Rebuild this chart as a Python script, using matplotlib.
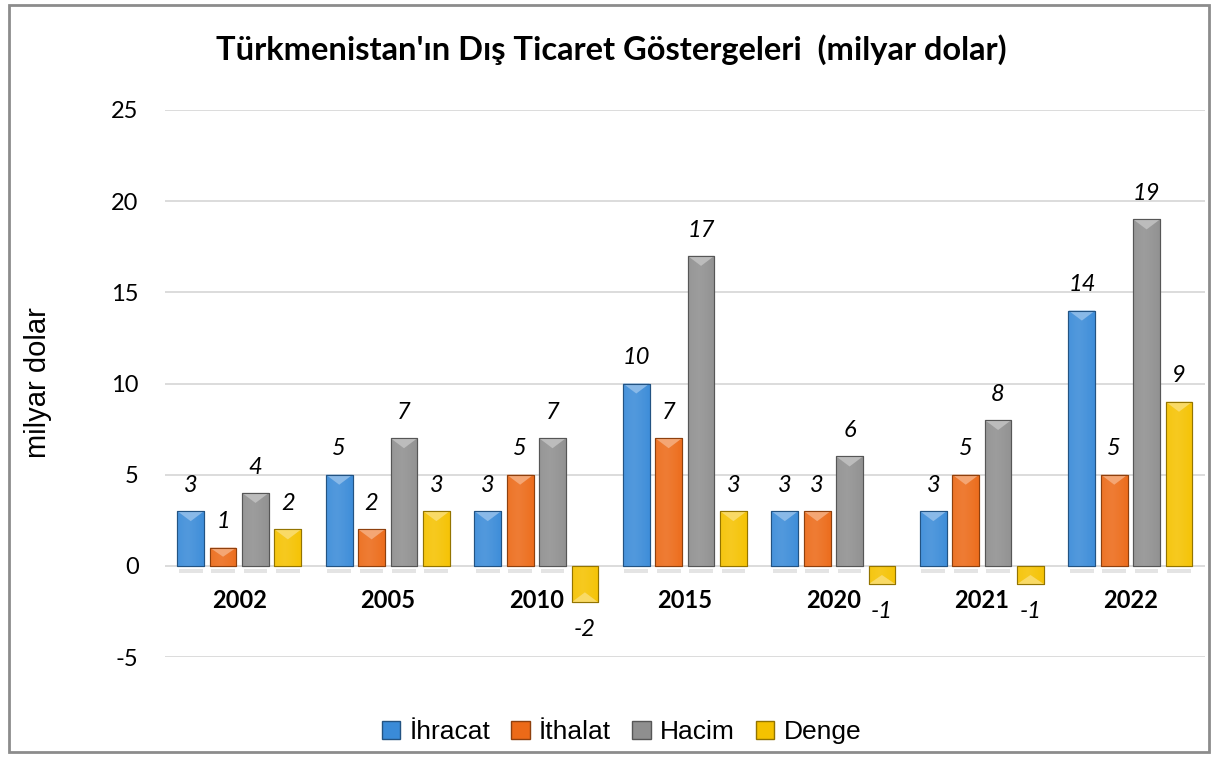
import numpy as np
import matplotlib.pyplot as plt
from matplotlib.patches import Rectangle, Polygon
from matplotlib.colors import to_rgb

# Türkmenistan dış ticaret göstergeleri (milyar dolar)
years = ['2002', '2005', '2010', '2015', '2020', '2021', '2022']
ihracat = [3, 5, 3, 10, 3, 3, 14]
ithalat = [1, 2, 5, 7, 3, 5, 5]
hacim = [4, 7, 7, 17, 6, 8, 19]
denge = [2, 3, -2, 3, -1, -1, 9]

series = [('İhracat', ihracat, '#3a8bd8'),
          ('İthalat', ithalat, '#ec6a18'),
          ('Hacim', hacim, '#8f8f8f'),
          ('Denge', denge, '#f5c200')]

plt.rcParams['font.family'] = ['Lato', 'DejaVu Sans']
plt.rcParams['axes.unicode_minus'] = False

fig = plt.figure(figsize=(12.16, 7.58), dpi=100)
ax = fig.add_axes([0.1357, 0.1332, 0.855, 0.7217])

x = np.arange(len(years))
width = 0.18
step = 0.218


def shade(c, f):
    r = np.array(to_rgb(c))
    if f >= 0:
        return tuple(r + (1 - r) * f)
    return tuple(r * (1 + f))


for i, (name, vals, col) in enumerate(series):
    pos = x + (i - 1.5) * step
    dark = shade(col, -0.4)
    bars = ax.bar(pos, vals, width, color=col, edgecolor=dark,
                  linewidth=0.8, zorder=3, label=name)
    # horizontal gradient: light left of centre, dark edges
    g = np.linspace(0, 1, 64)
    prof = 1 - 1.6 * np.abs(g - 0.4) ** 1.3
    img = np.array([[shade(col, 0.12 * p) if p > 0 else shade(col, 0.4 * p) for p in prof]])
    for b, v in zip(bars, vals):
        x0 = b.get_x()
        y0, y1 = min(0, v), max(0, v)
        im = ax.imshow(img, extent=[x0, x0 + width, y0, y1], aspect='auto',
                       zorder=3.5, interpolation='bilinear')
        im.set_clip_path(b)
        # bevelled top: light chevron
        edge = y1 if v > 0 else y0
        h = min(0.55, (y1 - y0) * 0.5)
        sgn = 1 if v > 0 else -1
        ax.add_patch(Polygon([(x0, edge), (x0 + width, edge), (x0 + width / 2, edge - sgn * h)],
                             closed=True, color=shade(col, 0.4), lw=0, zorder=3.6))
        ax.add_patch(Rectangle((x0, y0), width, y1 - y0, fill=False,
                               edgecolor=dark, lw=0.8, zorder=3.7))
        # soft shadow below the base
        ax.add_patch(Rectangle((x0 + 0.01, -0.4), width - 0.02, 0.25,
                               color='#cfcfcf', alpha=0.55, lw=0, zorder=2))
        if v >= 0:
            ax.annotate(f'{v}', (x0 + width / 2, v), xytext=(0, 11), textcoords='offset points',
                        ha='center', va='bottom', fontsize=17, style='italic', zorder=5)
        else:
            ax.annotate(f'{v}', (x0 + width / 2, v), xytext=(0, -12), textcoords='offset points',
                        ha='center', va='top', fontsize=17, style='italic', zorder=5)

for xi, yr in zip(x, years):
    ax.text(xi, -1.9, yr, ha='center', va='center', fontsize=17, fontweight='bold')

ax.set_xlim(-0.5, 6.5)
ax.set_ylim(-5, 25)
ax.set_yticks(range(-5, 26, 5))
ax.set_xticks([])
ax.tick_params(axis='y', length=0, labelsize=17, pad=19)
ax.grid(axis='y', color='#d9d9d9', linewidth=1.3, zorder=0)
ax.set_axisbelow(True)
for s in ax.spines.values():
    s.set_visible(False)

fig.text(0.031, 0.495, 'milyar dolar', rotation=90, ha='center', va='center',
         fontsize=21, family='Liberation Sans')
fig.text(0.503, 0.935, "Türkmenistan'ın Dış Ticaret Göstergeleri  (milyar dolar)",
         ha='center', va='center', fontsize=23.5, fontweight='bold')

handles = [Rectangle((0, 0), 1, 1, facecolor=c, edgecolor=shade(c, -0.4)) for _, _, c in series]
fig.legend(handles, [n for n, _, _ in series], loc='center', bbox_to_anchor=(0.511, 0.034),
           ncol=4, frameon=False, prop={'family': 'Liberation Sans', 'size': 19},
           handlelength=0.7, handleheight=0.7, handletextpad=0.35, columnspacing=0.8)

fig.patches.append(Rectangle((0.007, 0.008), 0.987, 0.986, transform=fig.transFigure,
                             fill=False, edgecolor='#8c8c8c', linewidth=2))

fig.savefig('out.png', dpi=100)
